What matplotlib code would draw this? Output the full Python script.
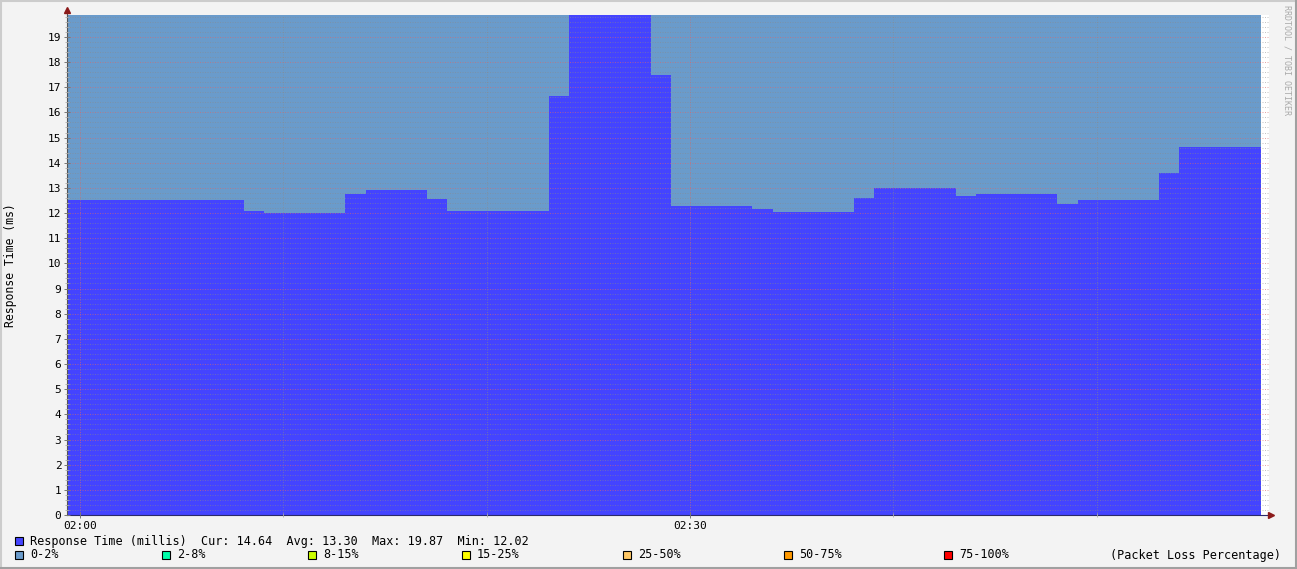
import matplotlib
matplotlib.use("Agg")
import matplotlib.pyplot as plt
from matplotlib.patches import Rectangle
from matplotlib.lines import Line2D

# step edges in minutes after 02:00 and the median response time per step (ms)
edges = [-0.64, 8.07, 9.05, 13.03, 14.07, 17.07, 18.05, 23.07, 24.05, 28.09, 29.07,
         33.05, 34.09, 38.07, 39.05, 43.09, 44.07, 48.06, 49.09, 53.07, 54.06, 58.09]
response = [12.52, 12.08, 12.02, 12.76, 12.92, 12.56, 12.08, 16.65, 19.87, 17.49,
            12.28, 12.16, 12.05, 12.60, 13.00, 12.68, 12.76, 12.36, 12.52, 13.59, 14.64]
loss_band = ["0-2%"] * len(response)

loss_labels = ["0-2%", "2-8%", "8-15%", "15-25%", "25-50%", "50-75%", "75-100%"]
loss_colors = ["#6A9BCB", "#00FFAA", "#CCFF00", "#FFFF00", "#FFC866", "#FF9900", "#FF0000"]
stats = {"Cur": 14.64, "Avg": 13.30, "Max": 19.87, "Min": 12.02}
x_ticks = [0, 30]
x_ticklabels = ["02:00", "02:30"]

W, H = 1297, 569
mono = "DejaVu Sans Mono"
plt.rcParams["font.family"] = mono

fig = plt.figure(figsize=(W / 100, H / 100), dpi=100)
fig.patch.set_facecolor("#F3F3F3")

def px(x, y):
    return x / W, 1 - y / H

L, R, T, B = 67, 1269, 15, 515
ax = fig.add_axes([L / W, 1 - B / H, (R - L) / W, (B - T) / H])
ax.set_facecolor("white")

ymax = max(response)
ax.set_xlim(edges[0], edges[0] + (R - L) / 20.33)
ax.set_ylim(0, ymax)

# packet loss background, then response time area
color_of = dict(zip(loss_labels, loss_colors))
for i, band in enumerate(loss_band):
    ax.stairs([ymax], edges[i:i + 2], baseline=0, fill=True, color=color_of[band], lw=0)
ax.stairs(response, edges, baseline=0, fill=True, color="#4444FF", lw=0)

# grid drawn over the areas
ax.set_axisbelow(False)
ax.set_yticks(range(0, 20))
ax.set_yticks([i * 0.2 for i in range(0, 100)], minor=True)
ax.set_xticks(x_ticks)
ax.set_xticklabels(x_ticklabels)
ax.set_xticks(range(0, 60, 10), minor=True)
ax.grid(which="minor", color="#8A8A8A", lw=0.72, ls=(0, (1, 1.5)), alpha=0.5)
ax.grid(which="major", color="#D86A6A", lw=0.72, ls=(0, (1, 1.5)), alpha=0.6)

ax.tick_params(axis="y", which="major", direction="inout", length=4, width=0.7,
               color="#777777", labelsize=8, pad=2)
ax.tick_params(axis="y", which="minor", direction="inout", length=3, width=0.6,
               color="#AAAAAA")
ax.tick_params(axis="x", which="major", direction="inout", length=4, width=0.7,
               color="#777777", labelsize=8, pad=2)
ax.tick_params(axis="x", which="minor", direction="inout", length=3, width=0.6,
               color="#AAAAAA")

for side in ["top", "right"]:
    ax.spines[side].set_visible(False)
ax.spines["left"].set_color("#555555")
ax.spines["bottom"].set_color("#2A2A6A")
ax.spines["left"].set_linewidth(0.8)
ax.spines["bottom"].set_linewidth(0.8)

# axis arrows
fig.add_artist(Line2D([L / W, L / W], [1 - T / H, 1 - 10 / H], color="#555555", lw=0.8))
fig.add_artist(Line2D([R / W, 1270 / W], [1 - B / H, 1 - B / H], color="#555555", lw=0.8))
fig.add_artist(Line2D([L / W], [1 - 10 / H], marker="^", ms=4, color="#8B1A1A", lw=0))
fig.add_artist(Line2D([1271 / W], [1 - B / H], marker=">", ms=4, color="#8B1A1A", lw=0))

fig.text(*px(11, 265), "Response Time (ms)", rotation=90, ha="center", va="center",
         fontsize=8.3, color="black")
fig.text(*px(1287, 5), "RRDTOOL / TOBI OETIKER", rotation=270, ha="center", va="top",
         fontsize=6, color="#AAAAAA")

# legend
def swatch(x, y, color):
    fig.add_artist(Rectangle(px(x, y + 8), 8 / W, 8 / H, facecolor=color,
                             edgecolor="black", lw=0.8, transform=fig.transFigure))

swatch(15, 537, "#4444FF")
summary = "Response Time (millis)  " + "  ".join(f"{k}: {v:.2f}" for k, v in stats.items())
fig.text(*px(30, 541), summary, fontsize=8.5, va="center", ha="left")

loss_x = [15, 162, 308, 462, 623, 784, 944]
for x, lab, col in zip(loss_x, loss_labels, loss_colors):
    swatch(x, 551, col)
    fig.text(*px(x + 15, 555), lab, fontsize=8.5, va="center", ha="left")
fig.text(*px(1281, 555), "(Packet Loss Percentage)", fontsize=8.5, va="center", ha="right")

# frame
fig.add_artist(Line2D([0, 1], [1 - 1 / H] * 2, color="#CCCCCC", lw=1.5))
fig.add_artist(Line2D([1 / W] * 2, [0, 1], color="#CCCCCC", lw=1.5))
fig.add_artist(Line2D([0, 1], [1 / H] * 2, color="#A0A0A0", lw=1.5))
fig.add_artist(Line2D([1 - 1 / W] * 2, [0, 1], color="#A0A0A0", lw=1.5))

fig.savefig("out.png", dpi=100, facecolor=fig.get_facecolor())
